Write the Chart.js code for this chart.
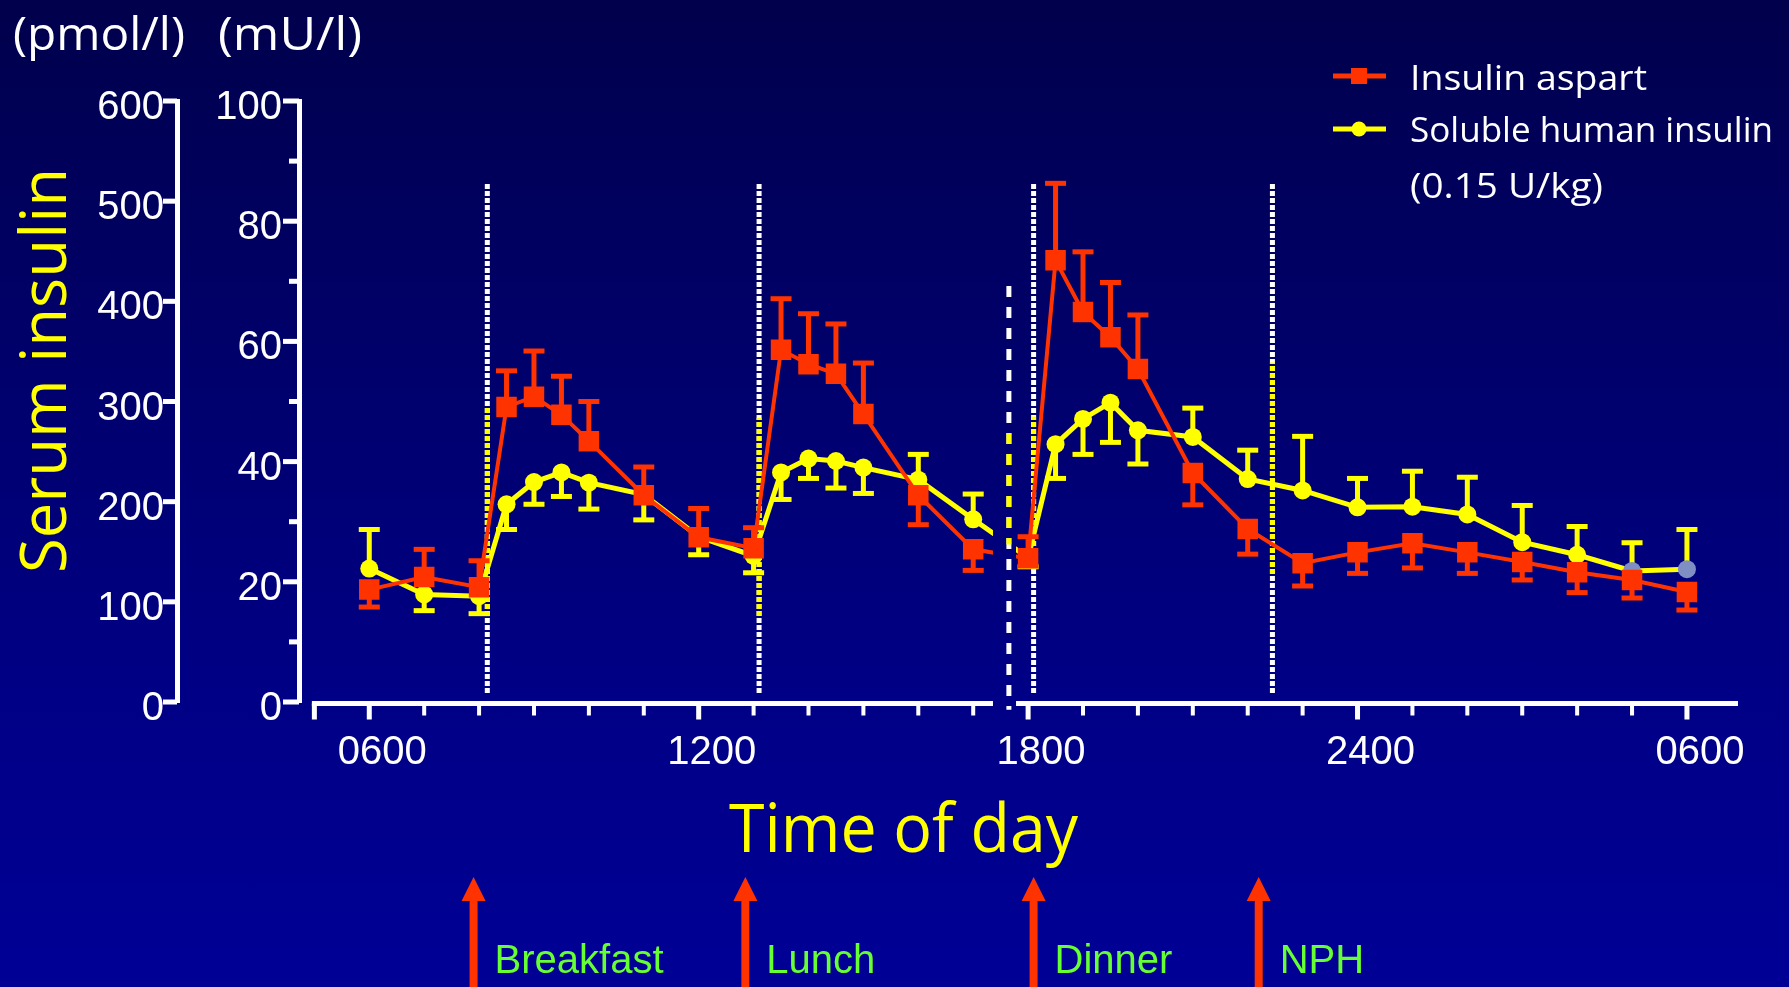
<!DOCTYPE html>
<html>
<head>
<meta charset="utf-8">
<title>Serum insulin profile</title>
<script src="https://cdn.jsdelivr.net/npm/chart.js@4.4.1/dist/chart.umd.min.js"></script>
<style>
  html, body { margin: 0; padding: 0; background: #000070; }
  #wrap {
    width: 1789px; height: 987px;
    background: linear-gradient(to bottom, #00004c 0%, #00006a 35%, #000086 70%, #000096 100%);
  }
  canvas { display: block; }
</style>
</head>
<body>
<div id="wrap"><canvas id="c" width="1789" height="987"></canvas></div>
<script>
// Sampling times in hours (30 = 06:00 the following morning)
const hours = [6, 7, 8, 8.5, 9, 9.5, 10, 11, 12, 13, 13.5, 14, 14.5, 15, 16, 17,
               18, 18.5, 19, 19.5, 20, 21, 22, 23, 24, 25, 26, 27, 28, 29, 30];

// Insulin aspart, mean serum insulin (mU/l)
const aspartMean = [18.7, 20.8, 19.1, 49.1, 50.8, 47.8, 43.4, 34.4, 27.4, 25.6, 58.6, 56.2, 54.6, 47.9, 34.4, 25.4,
                    23.9, 73.5, 64.9, 60.7, 55.4, 38.1, 28.8, 23.1, 24.9, 26.4, 24.9, 23.3, 21.6, 20.3, 18.3];
// SEM, sign gives the side the bar is drawn on (+ above, - below)
const aspartSem  = [-2.9, 4.6, 4.4, 6.0, 7.6, 6.4, 6.6, 4.7, 4.8, 3.4, 8.5, 8.4, 8.3, 8.5, -4.9, -3.5,
                    3.6, 12.8, 10.0, 9.1, 9.0, -5.3, -4.2, -3.8, -3.5, -4.1, -3.5, -3.0, -3.4, -3.0, -3.0];

// Soluble human insulin, mean serum insulin (mU/l)
const humanMean = [22.2, 17.9, 17.6, 32.9, 36.6, 38.2, 36.5, 34.5, 27.5, 24.3, 38.2, 40.5, 40.1, 39.0, 37.0, 30.4,
                   24.0, 42.9, 47.1, 49.8, 45.2, 44.1, 37.1, 35.2, 32.4, 32.5, 31.2, 26.6, 24.5, 21.8, 22.1];
const humanSem  = [6.5, -2.7, -2.9, -4.2, -3.7, -4.0, -4.4, -4.2, -3.0, -2.8, -4.5, -3.3, -4.5, -4.3, 4.2, 4.2,
                   -1.5, -5.7, -5.9, -6.6, -5.6, 4.8, 4.8, 9.0, 4.8, 5.9, 6.2, 6.1, 4.7, 4.7, 6.6];
// points of the human-insulin series drawn in grey
const humanGreyPoints = [16, 29, 30];

// x axis
const xTickHours  = [6, 12, 18, 24, 30];
const xTickLabels = ['0600', '1200', '1800', '2400', '0600'];
const axisBreak = [17.36, 17.78];   // gap in the time axis
const breakMark = 17.65;            // dashed break line
const breakSpan = [69.2, -1.3];     // mU/l
const breakYellow = [45, 26.2];

// meals and injections
const mealNames = ['Breakfast', 'Lunch', 'Dinner', 'NPH'];
const mealArrowHours = [7.9, 12.85, 18.1, 22.2];
const mealLineHours = [8.15, 13.1, 18.1, 22.45];
const mealLineSpan = [86.2, 1.5];   // mU/l
const mealLineYellow = [[49, 14], [47.3, 14.2], [47.5, 25.3], [56.5, 21.2]];

const RED = '#FF3300', YELLOW = '#FFFF00', GREY = '#7F8FC4', GREEN = '#66FF33', WHITE = '#FFFFFF';
const NUM_FONT = "'Liberation Sans', Arial, sans-serif";
const HAND_FONT = "'Comic Sans MS', 'Open Sans', 'Noto Sans', sans-serif";

Chart.defaults.font.family = NUM_FONT;

function fitText(ctx, text, x, y, width, size, family, color, angle = 0) {
  ctx.save();
  ctx.font = size + 'px ' + family;
  ctx.fillStyle = color;
  ctx.textAlign = 'left';
  ctx.textBaseline = 'alphabetic';
  const w = ctx.measureText(text).width;
  ctx.translate(x, y);
  ctx.rotate(angle);
  ctx.scale(width / w, 1);
  ctx.fillText(text, 0, 0);
  ctx.restore();
}

function dashedVertical(ctx, px, yTop, yBot, color, width, dash, clipTop, clipBot) {
  ctx.save();
  if (clipTop !== undefined) {
    ctx.beginPath();
    ctx.rect(px - width, clipTop, width * 2, clipBot - clipTop);
    ctx.clip();
  }
  ctx.strokeStyle = color;
  ctx.lineWidth = width;
  ctx.setLineDash(dash);
  ctx.beginPath();
  ctx.moveTo(px, yTop);
  ctx.lineTo(px, yBot);
  ctx.stroke();
  ctx.restore();
}

const decor = {
  id: 'decor',
  beforeDatasetsDraw(chart) {
    const { ctx, scales: { x, y } } = chart;
    // meal / injection reference lines
    mealLineHours.forEach((h, i) => {
      const px = x.getPixelForValue(h);
      const top = y.getPixelForValue(mealLineSpan[0]);
      const bot = y.getPixelForValue(mealLineSpan[1]);
      dashedVertical(ctx, px, top, bot, WHITE, 5, [5, 2]);
      dashedVertical(ctx, px, top, bot, YELLOW, 5, [5, 2],
        y.getPixelForValue(mealLineYellow[i][0]), y.getPixelForValue(mealLineYellow[i][1]));
    });
    // keep the series out of the axis break
    const g0 = x.getPixelForValue(axisBreak[0]);
    const g1 = x.getPixelForValue(axisBreak[1]);
    ctx.save();
    ctx.beginPath();
    ctx.rect(0, 0, chart.width, chart.height);
    ctx.rect(g0, 0, g1 - g0, chart.height);
    ctx.clip('evenodd');
  },
  beforeDatasetDraw(chart, args) {
    const ds = chart.data.datasets[args.index];
    const { ctx } = chart;
    const y = chart.scales.y;
    ctx.save();
    ctx.fillStyle = ds.barColor;
    args.meta.data.forEach((pt, i) => {
      const v = ds.data[i].y;
      const y0 = pt.y;
      const y1 = y.getPixelForValue(v + ds.sem[i]);
      ctx.fillRect(pt.x - 2.5, Math.min(y0, y1), 5, Math.abs(y1 - y0));
      ctx.fillRect(pt.x - 10.5, y1 - 2.5, 21, 5);
    });
    ctx.restore();
  },
  afterDatasetsDraw(chart) {
    const { ctx, scales: { x, y } } = chart;
    ctx.restore();
    const px = x.getPixelForValue(breakMark);
    const top = y.getPixelForValue(breakSpan[0]);
    const bot = y.getPixelForValue(breakSpan[1]);
    dashedVertical(ctx, px, top, bot, WHITE, 5, [11, 10]);
    dashedVertical(ctx, px, top, bot, YELLOW, 5, [11, 10],
      y.getPixelForValue(breakYellow[0]), y.getPixelForValue(breakYellow[1]));
  },
  afterDraw(chart) {
    const { ctx, chartArea: ca, scales: { x, y, yP } } = chart;
    ctx.save();
    ctx.fillStyle = WHITE;

    // time axis, drawn in two pieces around the break
    const ay = ca.bottom + 1.5;
    const xStart = x.getPixelForValue(5) - 2.5;
    const g0 = x.getPixelForValue(axisBreak[0]);
    const g1 = x.getPixelForValue(axisBreak[1]);
    ctx.fillRect(xStart, ay - 2.5, g0 - xStart, 5);
    ctx.fillRect(g1, ay - 2.5, ca.right - g1, 5);
    for (let h = 5; h <= 30; h++) {
      if (h > axisBreak[0] && h < axisBreak[1]) continue;
      const major = h === 5 || xTickHours.includes(h);
      const len = major ? 16 : 12;
      const w = major ? 5 : 4;
      ctx.fillRect(x.getPixelForValue(h) - w / 2, ay, w, len);
    }

    // y tick marks
    y.ticks.forEach(t => {
      const len = t.value % 20 === 0 ? 16 : 10;
      ctx.fillRect(y.right - len, y.getPixelForValue(t.value) - 2.5, len, 5);
    });
    yP.ticks.forEach(t => {
      ctx.fillRect(yP.right - 14, yP.getPixelForValue(t.value) - 2.5, 14, 5);
    });
    ctx.restore();

    // units and axis titles
    fitText(ctx, '(pmol/l)', 13, 50, 172, 46, HAND_FONT, WHITE);
    fitText(ctx, '(mU/l)', 218, 50, 144, 46, HAND_FONT, WHITE);
    fitText(ctx, 'Serum insulin', 66, 573, 405, 64, HAND_FONT, YELLOW, -Math.PI / 2);
    fitText(ctx, 'Time of day', 729, 852, 349, 67, HAND_FONT, YELLOW);

    // legend
    ctx.save();
    ctx.lineWidth = 5;
    ctx.strokeStyle = RED;
    ctx.beginPath(); ctx.moveTo(1333, 76); ctx.lineTo(1386, 76); ctx.stroke();
    ctx.fillStyle = RED;
    ctx.fillRect(1351, 68, 16, 16);
    ctx.strokeStyle = YELLOW;
    ctx.beginPath(); ctx.moveTo(1333, 129); ctx.lineTo(1386, 129); ctx.stroke();
    ctx.fillStyle = YELLOW;
    ctx.beginPath(); ctx.arc(1359, 129, 7.5, 0, Math.PI * 2); ctx.fill();
    ctx.restore();
    fitText(ctx, 'Insulin aspart', 1410, 90, 237, 35, HAND_FONT, WHITE);
    fitText(ctx, 'Soluble human insulin', 1410, 142, 363, 35, HAND_FONT, WHITE);
    fitText(ctx, '(0.15 U/kg)', 1410, 198, 193, 35, HAND_FONT, WHITE);

    // meal and NPH arrows
    ctx.save();
    ctx.font = '40px ' + NUM_FONT;
    ctx.textBaseline = 'alphabetic';
    ctx.textAlign = 'left';
    mealArrowHours.forEach((h, i) => {
      const px = x.getPixelForValue(h);
      ctx.fillStyle = RED;
      ctx.fillRect(px - 4, 899, 8, chart.height - 899);
      ctx.beginPath();
      ctx.moveTo(px, 877);
      ctx.lineTo(px + 12, 901);
      ctx.lineTo(px - 12, 901);
      ctx.closePath();
      ctx.fill();
      ctx.fillStyle = GREEN;
      ctx.fillText(mealNames[i], px + 21, 973);
    });
    ctx.restore();
  }
};

const points = (vals) => hours.map((h, i) => ({ x: h, y: vals[i] }));

new Chart(document.getElementById('c'), {
  type: 'line',
  data: {
    datasets: [
      {
        label: 'Insulin aspart',
        data: points(aspartMean),
        sem: aspartSem,
        barColor: RED,
        borderColor: RED,
        backgroundColor: RED,
        borderWidth: 4,
        pointStyle: 'rect',
        pointRadius: 14.5,
        pointBorderWidth: 0,
        pointBackgroundColor: RED,
        tension: 0
      },
      {
        label: 'Soluble human insulin',
        data: points(humanMean),
        sem: humanSem,
        barColor: YELLOW,
        borderColor: YELLOW,
        backgroundColor: YELLOW,
        borderWidth: 5,
        pointStyle: 'circle',
        pointRadius: 9,
        pointBorderWidth: 0,
        pointBackgroundColor: c => humanGreyPoints.includes(c.dataIndex) ? GREY : YELLOW,
        tension: 0
      }
    ]
  },
  options: {
    responsive: false,
    devicePixelRatio: 1,
    animation: false,
    events: [],
    layout: { padding: { left: 0, top: 101, right: 51, bottom: 0 } },
    plugins: { legend: { display: false }, tooltip: { enabled: false } },
    scales: {
      x: {
        type: 'linear',
        position: 'bottom',
        min: 4.72,
        max: 30.93,
        grid: { display: false, drawTicks: false },
        border: { display: false },
        afterBuildTicks: s => { s.ticks = xTickHours.map(v => ({ value: v })); },
        afterFit: s => { s.height = 285; },
        ticks: {
          autoSkip: false,
          maxRotation: 0,
          color: WHITE,
          font: { size: 40, family: NUM_FONT },
          padding: 27,
          labelOffset: 13,
          callback: (v, i) => xTickLabels[i]
        }
      },
      y: {
        type: 'linear',
        position: 'left',
        weight: 0,
        min: 0,
        max: 100,
        grid: { display: false, drawTicks: false },
        border: { display: true, color: WHITE, width: 5 },
        afterFit: s => { s.width = 122; },
        ticks: {
          stepSize: 10,
          color: WHITE,
          font: { size: 40, family: NUM_FONT },
          padding: 17,
          labelOffset: 7,
          callback: v => (v % 20 === 0 ? v : '')
        }
      },
      yP: {
        type: 'linear',
        position: 'left',
        weight: 1,
        min: 0,
        max: 600,
        grid: { display: false, drawTicks: false },
        border: { display: true, color: WHITE, width: 5 },
        afterFit: s => { s.width = 177; },
        ticks: {
          stepSize: 100,
          color: WHITE,
          font: { size: 40, family: NUM_FONT },
          padding: 13,
          labelOffset: 7
        }
      }
    }
  },
  plugins: [decor]
});
</script>
</body>
</html>
